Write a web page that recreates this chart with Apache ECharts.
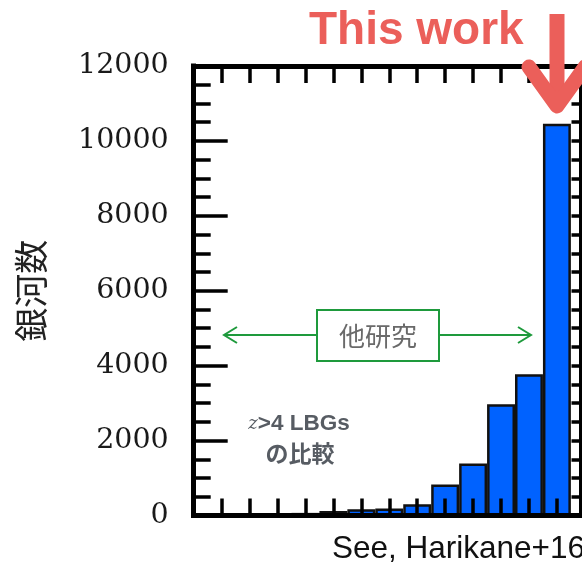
<!DOCTYPE html>
<html>
<head>
<meta charset="utf-8">
<script src="https://cdn.jsdelivr.net/npm/echarts@6/dist/echarts.min.js"></script>
<style>html,body{margin:0;padding:0;background:#fff;}#c{width:582px;height:568px;}</style>
</head>
<body>
<div id="c"></div>
<script>
// histogram bins (bin centers in bin-index units) and galaxy counts
const binCenters = [1, 2, 3, 4, 5, 6, 7, 8, 9, 10, 11, 12, 13];
const counts = [15, 25, 45, 70, 120, 170, 190, 300, 830, 1390, 2970, 3770, 10460];
// y-axis ticks
const yTicks = [0, 2000, 4000, 6000, 8000, 10000, 12000];
const yName = '銀河数';
const titleText = 'This work';
const boxText = '他研究';
const noteLine1 = '>4 LBGs';
const noteLine2 = 'の比較';
const sourceText = 'See, Harikane+16';

const chart = echarts.init(document.getElementById('c'), null, {renderer: 'canvas'});

const frameLine = () => ({onZero: false, lineStyle: {color: '#000', width: 5, cap: 'square'}});
const xTick = () => ({show: true, inside: true, length: 17, lineStyle: {color: '#000', width: 3.5}});

chart.setOption({
  animation: false,
  backgroundColor: '#fff',
  grid: {left: 193.7, top: 66, right: 0.5, bottom: 52.5},
  xAxis: [
    {type: 'value', position: 'bottom', min: 0, max: 13.88, interval: 1, z: 3,
     axisLine: frameLine(), axisTick: xTick(), axisLabel: {show: false}, splitLine: {show: false}},
    {type: 'value', position: 'top', min: 0, max: 13.88, interval: 1, z: 3,
     axisLine: frameLine(), axisTick: xTick(), axisLabel: {show: false}, splitLine: {show: false}}
  ],
  yAxis: [
    {type: 'value', position: 'left', min: yTicks[0], max: yTicks[yTicks.length - 1], interval: yTicks[1] - yTicks[0],
     name: yName, nameLocation: 'middle', nameRotate: 90, nameGap: 146,
     nameTextStyle: {fontFamily: 'Noto Sans CJK JP', fontSize: 34, color: '#222'},
     axisLine: frameLine(),
     axisTick: {show: true, inside: true, length: 34, lineStyle: {color: '#000', width: 3.5}},
     minorTick: {show: true, splitNumber: 4, length: 17, lineStyle: {color: '#000', width: 3.5}},
     axisLabel: {margin: 25, fontFamily: 'DejaVu Serif', fontSize: 28.5, color: '#1a1a1a', formatter: v => String(v)},
     splitLine: {show: false}, minorSplitLine: {show: false}},
    {type: 'value', position: 'right', min: 0, max: 12000, interval: 500,
     axisLine: frameLine(),
     axisTick: {show: true, inside: true, length: 10, lineStyle: {color: '#000', width: 3.5}},
     axisLabel: {show: false}, splitLine: {show: false}}
  ],
  series: [{
    type: 'bar', xAxisIndex: 0, yAxisIndex: 0,
    data: binCenters.map((x, i) => [x, counts[i]]),
    barWidth: 27.94,
    itemStyle: {color: '#0062FF', borderColor: '#111', borderWidth: 2.5}
  }],
  graphic: [
    {type: 'text', x: 309, y: 31, z: 10,
     style: {text: titleText, font: 'bold 46px "Liberation Sans", Arial, sans-serif', fill: '#EB5F5A', align: 'left', verticalAlign: 'middle'}},
    {type: 'polyline', z: 10, shape: {points: [[557, 14], [557, 104]]},
     style: {stroke: '#EB5F5A', lineWidth: 15, lineCap: 'butt', fill: null}},
    {type: 'polyline', z: 10, shape: {points: [[529, 67], [557, 106], [585, 67]]},
     style: {stroke: '#EB5F5A', lineWidth: 15, lineCap: 'round', lineJoin: 'round', fill: null}},
    // green "other studies" bracket
    {type: 'line', z: 10, shape: {x1: 224, y1: 335, x2: 317, y2: 335}, style: {stroke: '#1E9A3C', lineWidth: 2}},
    {type: 'line', z: 10, shape: {x1: 439, y1: 335, x2: 531, y2: 335}, style: {stroke: '#1E9A3C', lineWidth: 2}},
    {type: 'polyline', z: 10, shape: {points: [[237, 327], [224, 335], [237, 343]]}, style: {stroke: '#1E9A3C', lineWidth: 2, fill: null}},
    {type: 'polyline', z: 10, shape: {points: [[518, 327], [531, 335], [518, 343]]}, style: {stroke: '#1E9A3C', lineWidth: 2, fill: null}},
    {type: 'rect', z: 10, shape: {x: 317, y: 310, width: 122, height: 51}, style: {stroke: '#1E9A3C', lineWidth: 2, fill: '#fff'}},
    {type: 'text', z: 11, x: 378, y: 336,
     style: {text: boxText, font: '26px "Noto Sans CJK JP", sans-serif', fill: '#6a6a6a', align: 'center', verticalAlign: 'middle'}},
    // z>4 LBGs note
    {type: 'text', z: 11, x: 299, y: 424,
     style: {text: '{z|z}' + noteLine1, rich: {z: {font: 'italic 18px "DejaVu Serif", serif', fill: '#575c63'}},
             font: 'bold 22.5px "Liberation Sans", Arial, sans-serif', fill: '#575c63', align: 'center', verticalAlign: 'middle'}},
    {type: 'text', z: 11, x: 300, y: 453,
     style: {text: noteLine2, font: 'bold 23px "Noto Sans CJK JP", sans-serif', fill: '#575c63', align: 'center', verticalAlign: 'middle'}},
    {type: 'text', z: 11, x: 332, y: 549,
     style: {text: sourceText, font: '31.5px "Liberation Sans", Arial, sans-serif', fill: '#111', align: 'left', verticalAlign: 'middle'}}
  ]
});
</script>
</body>
</html>
